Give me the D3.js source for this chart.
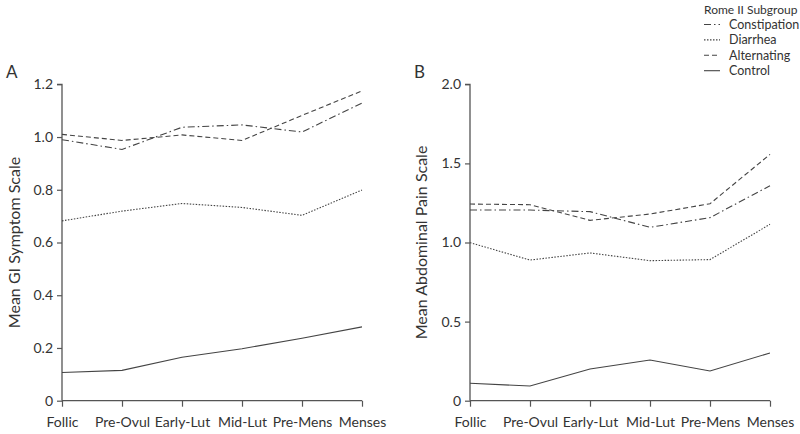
<!DOCTYPE html>
<html><head><meta charset="utf-8">
<script src="https://cdn.jsdelivr.net/npm/d3@7"></script>
<style>
body{margin:0;background:#fff;}
text{font-family:Lato,"Open Sans",sans-serif;fill:#333;}
</style></head>
<body><svg id="c" width="800" height="434"></svg>
<script>
const phases = ["Follic","Pre-Ovul","Early-Lut","Mid-Lut","Pre-Mens","Menses"];
const seriesNames = ["Constipation","Diarrhea","Alternating","Control"];
// Panel A: Mean GI Symptom Scale
const giConstipation = [0.99,0.953,1.037,1.046,1.019,1.129];
const giDiarrhea     = [0.682,0.719,0.748,0.733,0.703,0.799];
const giAlternating  = [1.01,0.987,1.008,0.987,1.082,1.175];
const giControl      = [0.107,0.115,0.165,0.197,0.237,0.28];
const giTicks = [0,0.2,0.4,0.6,0.8,1.0,1.2];
// Panel B: Mean Abdominal Pain Scale
const apConstipation = [1.205,1.205,1.195,1.096,1.157,1.359];
const apDiarrhea     = [0.999,0.889,0.934,0.885,0.892,1.115];
const apAlternating  = [1.243,1.239,1.140,1.18,1.245,1.557];
const apControl      = [0.11,0.093,0.2,0.257,0.188,0.302];
const apTicks = [0,0.5,1.0,1.5,2.0];

const dashes = {Constipation:"7,3,1.5,3",Diarrhea:"1.5,1.5",Alternating:"5,3",Control:null};
const stroke = "#444";
const svg = d3.select("#c");

function panel(letter, x0, x1, yMax, ticks, fmt, data, ylabel, labelX){
  const x = d3.scalePoint().domain(phases).range([x0,x1]);
  const y = d3.scaleLinear().domain([0,yMax]).range([400.7,84.3]);
  const g = svg.append("g");
  const ya = g.append("g").attr("transform",`translate(${x0},0)`)
    .call(d3.axisLeft(y).tickValues(ticks).tickFormat(fmt).tickSize(5).tickPadding(4));
  const xa = g.append("g").attr("transform",`translate(0,${y(0)})`)
    .call(d3.axisBottom(x).tickSize(6).tickPadding(8));
  [ya,xa].forEach(a=>{
    a.select(".domain").attr("stroke","#555").attr("stroke-width",1.3);
    a.selectAll(".tick line").attr("stroke","#555").attr("stroke-width",1.2);
    a.selectAll(".tick text").attr("font-size",14).attr("fill","#3a3a3a").attr("font-family","Lato, sans-serif");
  });
  ya.select(".domain").attr("d",`M-5,${y(yMax)}H0V${y(0)}`);
  xa.select(".domain").attr("d",`M${x0},0H${x1}`);
  xa.selectAll(".tick text").attr("dy","0.9em");
  const line = d3.line().x((d,i)=>x(phases[i])).y(d=>y(d));
  seriesNames.forEach(n=>{
    g.append("path").datum(data[n]).attr("d",line).attr("fill","none")
      .attr("stroke",stroke).attr("stroke-width",1.1)
      .attr("stroke-dasharray",dashes[n]);
  });
  g.append("text").attr("x",labelX).attr("y",(y(0)+y(yMax))/2)
    .attr("transform",`rotate(-90,${labelX},${(y(0)+y(yMax))/2})`)
    .attr("text-anchor","middle").attr("font-size",16).text(ylabel);
  g.append("text").attr("x",x0-56).attr("y",78).attr("font-size",17).text(letter);
}

panel("A",62,362,1.2,giTicks,d=>d===0?"0":d3.format(".1f")(d),
  {Constipation:giConstipation,Diarrhea:giDiarrhea,Alternating:giAlternating,Control:giControl},
  "Mean GI Symptom Scale",20);
panel("B",470,770,2.0,apTicks,d=>d===0?"0":d3.format(".1f")(d),
  {Constipation:apConstipation,Diarrhea:apDiarrhea,Alternating:apAlternating,Control:apControl},
  "Mean Abdominal Pain Scale",427);

// legend
const lg = svg.append("g");
lg.append("text").attr("x",704).attr("y",13.5).attr("font-size",12).text("Rome II Subgroup");
seriesNames.forEach((n,i)=>{
  const yy = 24.5+i*15.4;
  lg.append("line").attr("x1",704).attr("x2",720).attr("y1",yy).attr("y2",yy)
    .attr("stroke",stroke).attr("stroke-width",1.1).attr("stroke-dasharray",dashes[n]);
  lg.append("text").attr("x",729).attr("y",yy+4.2).attr("font-size",12.5).text(n);
});
</script></body></html>
